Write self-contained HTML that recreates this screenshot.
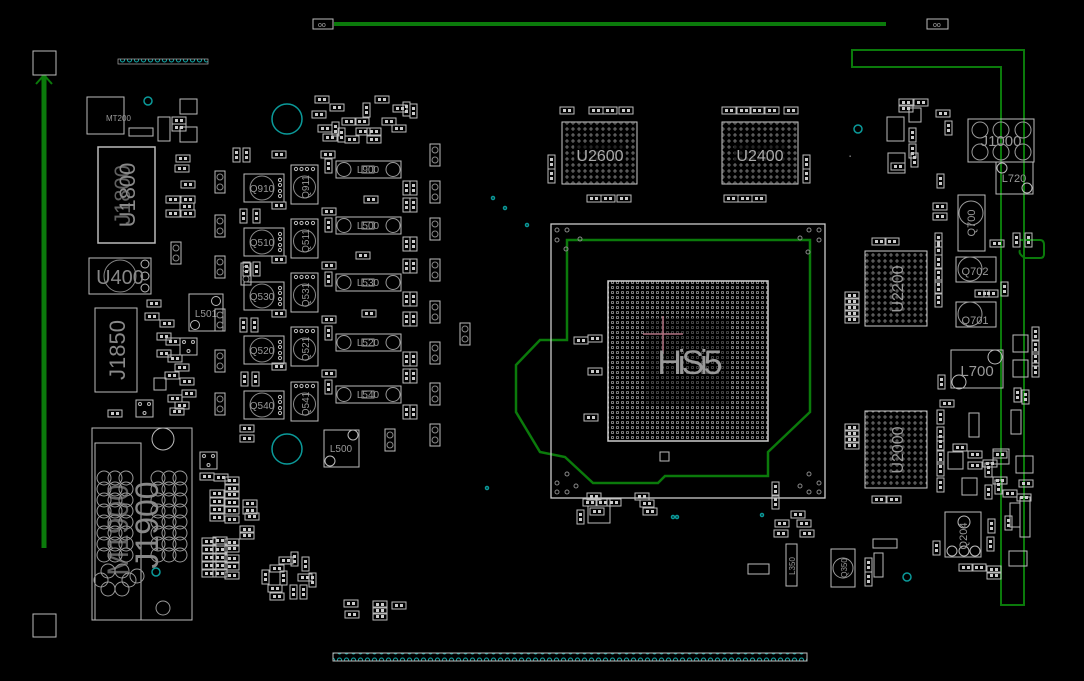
<!DOCTYPE html>
<html><head><meta charset="utf-8"><style>html,body{margin:0;padding:0;background:#000}svg{display:block}</style></head>
<body>
<svg width="1084" height="681" viewBox="0 0 1084 681" xmlns="http://www.w3.org/2000/svg" font-family="Liberation Sans, sans-serif">
<defs>
<g id="r"><rect x="0" y="0" width="14" height="7" fill="none" stroke="#bbb" stroke-width="1"/><rect x="3" y="2" width="3" height="3" fill="#ccc"/><rect x="8" y="2" width="3" height="3" fill="#ccc"/></g>
<g id="rv"><rect x="0" y="0" width="7" height="14" fill="none" stroke="#bbb" stroke-width="1"/><rect x="2" y="3" width="3" height="3" fill="#ccc"/><rect x="2" y="8" width="3" height="3" fill="#ccc"/></g>
<g id="cv"><rect x="0" y="0" width="10" height="22" fill="none" stroke="#bbb"/><circle cx="5" cy="6" r="3" fill="none" stroke="#888"/><circle cx="5" cy="16" r="3" fill="none" stroke="#888"/></g>
<g id="sq"><rect x="0" y="0" width="17" height="17" fill="none" stroke="#bbb"/><circle cx="4" cy="4" r="1.5" fill="none" stroke="#bbb"/><circle cx="13" cy="4" r="1.5" fill="none" stroke="#bbb"/><circle cx="8.5" cy="13" r="1.5" fill="none" stroke="#bbb"/></g>
<g id="qa"><rect x="0" y="0" width="40" height="28" fill="none" stroke="#bbb"/><circle cx="18" cy="14" r="12" fill="none" stroke="#888"/><circle cx="36" cy="6" r="1.6" fill="none" stroke="#bbb"/><circle cx="36" cy="11" r="1.6" fill="none" stroke="#bbb"/><circle cx="36" cy="17" r="1.6" fill="none" stroke="#bbb"/><circle cx="36" cy="22" r="1.6" fill="none" stroke="#bbb"/></g>
<g id="qb"><rect x="0" y="0" width="27" height="39" fill="none" stroke="#bbb"/><circle cx="13.5" cy="22" r="11" fill="none" stroke="#888"/><circle cx="5" cy="4" r="1.6" fill="none" stroke="#bbb"/><circle cx="10.5" cy="4" r="1.6" fill="none" stroke="#bbb"/><circle cx="16" cy="4" r="1.6" fill="none" stroke="#bbb"/><circle cx="22" cy="4" r="1.6" fill="none" stroke="#bbb"/></g>
<g id="lb"><rect x="0" y="0" width="65" height="17" fill="none" stroke="#bbb"/><circle cx="8" cy="8.5" r="7" fill="none" stroke="#999"/><circle cx="57" cy="8.5" r="7" fill="none" stroke="#999"/><rect x="26" y="5" width="12" height="7" fill="none" stroke="#999"/></g>
<pattern id="dots" width="5" height="5" patternUnits="userSpaceOnUse"><circle cx="2.5" cy="2.5" r="1.2" fill="none" stroke="#aaa" stroke-width="0.7"/></pattern>
<pattern id="dots2" width="6" height="6" patternUnits="userSpaceOnUse"><circle cx="3" cy="3" r="1.1" fill="none" stroke="#999" stroke-width="0.7"/></pattern>
<pattern id="tdots" width="7" height="8" patternUnits="userSpaceOnUse"><circle cx="3.5" cy="4" r="2" fill="none" stroke="#1aa" stroke-width="1"/></pattern>
</defs>
<rect width="1084" height="681" fill="#000"/>

<!-- green traces -->
<g stroke="#0b7a0b" fill="none">
<line x1="334" y1="24" x2="886" y2="24" stroke-width="4"/>
<line x1="44" y1="75" x2="44" y2="548" stroke-width="5"/>
<polyline points="44,75 36,84" stroke-width="2"/><polyline points="44,75 52,84" stroke-width="2"/>
<path d="M852,50 H1024 V605 H1001 V67 H852 Z" stroke-width="2"/>
<path d="M1020,240 H1040 Q1044,240 1044,245 V254 Q1044,258 1040,258 H1025 Q1018,254 1020,250" stroke-width="2"/>
<path d="M567,240 H810 V412 L768,452 V476 H665 L658,483 H593 L565,457 L540,452 L516,412 V365 L540,340 H567 Z" stroke-width="2.5"/>
</g>
<g fill="none" stroke="#bbb">
<rect x="313" y="19" width="20" height="10"/><rect x="927" y="19" width="21" height="10"/>
<rect x="33" y="51" width="23" height="24"/><rect x="33" y="614" width="23" height="23"/>
</g>
<text x="318" y="27" font-size="7" fill="#aaa">oo</text><text x="933" y="27" font-size="7" fill="#aaa">oo</text>
<rect x="118" y="59" width="90" height="5" fill="url(#tdots)" stroke="#aaa" stroke-width="0.7"/>
<rect x="333" y="653" width="474" height="8" fill="url(#tdots)" stroke="#bbb"/>

<!-- teal circles -->
<g fill="none" stroke="#0b9a9a" stroke-width="1.5">
<circle cx="287" cy="119" r="15"/><circle cx="287" cy="449" r="15"/><circle cx="148" cy="101" r="4"/><circle cx="858" cy="129" r="4"/><circle cx="907" cy="577" r="4"/><circle cx="156" cy="572" r="4"/>
<circle cx="493" cy="198" r="1.5"/><circle cx="505" cy="208" r="1.5"/><circle cx="527" cy="225" r="1.5"/><circle cx="487" cy="488" r="1.5"/><circle cx="673" cy="517" r="1.5"/><circle cx="677" cy="517" r="1.5"/><circle cx="762" cy="515" r="1.5"/>
</g>

<!-- left area -->
<g fill="none" stroke="#bbb">
<rect x="87" y="97" width="37" height="37"/>
<rect x="98" y="147" width="57" height="96" stroke-width="1.5"/>
<rect x="89" y="258" width="62" height="36"/><circle cx="120" cy="276" r="16" stroke="#888"/>
<circle cx="145" cy="264" r="4"/><circle cx="145" cy="276" r="4"/><circle cx="145" cy="288" r="4"/>
<rect x="95" y="308" width="42" height="84"/>
<rect x="189" y="294" width="34" height="37"/><circle cx="216" cy="301" r="4.5"/><circle cx="195" cy="325" r="4.5"/>
<rect x="92" y="428" width="100" height="192"/><rect x="95" y="443" width="46" height="177"/><circle cx="163" cy="439" r="11"/>
<rect x="324" y="430" width="35" height="37"/><circle cx="353" cy="435" r="5"/><circle cx="330" cy="461" r="5"/>
<rect x="180" y="99" width="17" height="15"/><rect x="180" y="127" width="17" height="15"/>
<rect x="129" y="128" width="24" height="8"/><rect x="158" y="117" width="12" height="24"/>
<rect x="91" y="444" width="0" height="0"/>
</g>
<g fill="none" stroke="#999">
<g id="jball">
<circle cx="104" cy="478" r="7"/><circle cx="115" cy="478" r="7"/><circle cx="126" cy="478" r="7"/><circle cx="158" cy="478" r="7"/><circle cx="169" cy="478" r="7"/><circle cx="180" cy="478" r="7"/>
</g>
<use href="#jball" y="11"/><use href="#jball" y="22"/><use href="#jball" y="33"/><use href="#jball" y="44"/><use href="#jball" y="55"/><use href="#jball" y="66"/><use href="#jball" y="77"/>
<circle cx="108" cy="571" r="7"/><circle cx="122" cy="571" r="7"/><circle cx="101" cy="580" r="7"/><circle cx="129" cy="580" r="7"/><circle cx="108" cy="589" r="7"/><circle cx="122" cy="589" r="7"/><circle cx="137" cy="576" r="7"/><circle cx="163" cy="608" r="7"/>
</g>
<text x="106" y="121" font-size="8" fill="#999">MT200</text>
<text transform="translate(135,195) rotate(-90)" font-size="22" fill="#888" text-anchor="middle">U1800</text>
<text transform="translate(130,195) rotate(-90)" font-size="22" fill="#888" text-anchor="middle" opacity="0.7">J1800</text>
<text x="120" y="284" font-size="20" fill="#888" text-anchor="middle">U400</text>
<text transform="translate(125,350) rotate(-90)" font-size="22" fill="#888" text-anchor="middle">J1850</text>
<text transform="translate(158,525) rotate(-90)" font-size="32" fill="#888" text-anchor="middle">J1900</text>
<text transform="translate(128,530) rotate(-90)" font-size="30" fill="#888" text-anchor="middle" opacity="0.7">M1900</text>
<text x="206" y="317" font-size="10" fill="#999" text-anchor="middle">L501</text>
<text x="341" y="452" font-size="10" fill="#999" text-anchor="middle">L500</text>

<!-- Q/L rows -->
<use href="#qa" x="244" y="174"/><use href="#qb" x="291" y="165"/><use href="#lb" x="336" y="161"/>
<use href="#qa" x="244" y="228"/><use href="#qb" x="291" y="219"/><use href="#lb" x="336" y="217"/>
<use href="#qa" x="244" y="282"/><use href="#qb" x="291" y="273"/><use href="#lb" x="336" y="274"/>
<use href="#qa" x="244" y="336"/><use href="#qb" x="291" y="327"/><use href="#lb" x="336" y="334"/>
<use href="#qa" x="244" y="391"/><use href="#qb" x="291" y="382"/><use href="#lb" x="336" y="386"/>
<g font-size="10" fill="#999" text-anchor="middle">
<text x="262" y="192">Q910</text><text x="262" y="246">Q510</text><text x="262" y="300">Q530</text><text x="262" y="354">Q520</text><text x="262" y="409">Q540</text>
<text x="368" y="173">L900</text><text x="368" y="229">L500</text><text x="368" y="286">L530</text><text x="368" y="346">L520</text><text x="368" y="398">L540</text>
<text transform="translate(309,187) rotate(-90)">Q911</text><text transform="translate(309,241) rotate(-90)">Q511</text><text transform="translate(309,295) rotate(-90)">Q531</text><text transform="translate(309,349) rotate(-90)">Q521</text><text transform="translate(309,404) rotate(-90)">Q541</text>
</g>
<use href="#cv" x="215" y="171"/><use href="#cv" x="215" y="215"/><use href="#cv" x="215" y="256"/><use href="#cv" x="215" y="309"/><use href="#cv" x="215" y="350"/><use href="#cv" x="215" y="393"/>
<use href="#cv" x="430" y="144"/><use href="#cv" x="430" y="181"/><use href="#cv" x="430" y="218"/><use href="#cv" x="430" y="259"/><use href="#cv" x="430" y="301"/><use href="#cv" x="430" y="342"/><use href="#cv" x="430" y="383"/><use href="#cv" x="430" y="424"/>
<use href="#cv" x="385" y="429"/><use href="#cv" x="460" y="323"/><use href="#cv" x="171" y="242"/><use href="#cv" x="241" y="263"/>
<g>
<use href="#rv" x="233" y="148"/><use href="#rv" x="243" y="148"/><use href="#rv" x="240" y="209"/><use href="#rv" x="253" y="209"/><use href="#rv" x="243" y="262"/><use href="#rv" x="253" y="262"/><use href="#rv" x="240" y="318"/><use href="#rv" x="251" y="318"/><use href="#rv" x="241" y="372"/><use href="#rv" x="252" y="372"/>
<use href="#r" x="272" y="151"/><use href="#r" x="272" y="202"/><use href="#r" x="272" y="256"/><use href="#r" x="272" y="310"/><use href="#r" x="272" y="363"/>
<use href="#r" x="321" y="151"/><use href="#r" x="322" y="208"/><use href="#r" x="322" y="262"/><use href="#r" x="322" y="316"/><use href="#r" x="322" y="370"/>
<use href="#rv" x="325" y="159"/><use href="#rv" x="325" y="218"/><use href="#rv" x="325" y="272"/><use href="#rv" x="325" y="326"/><use href="#rv" x="325" y="380"/>
<use href="#rv" x="403" y="181"/><use href="#rv" x="410" y="181"/><use href="#rv" x="403" y="198"/><use href="#rv" x="410" y="198"/><use href="#rv" x="403" y="237"/><use href="#rv" x="410" y="237"/><use href="#rv" x="403" y="259"/><use href="#rv" x="410" y="259"/><use href="#rv" x="403" y="292"/><use href="#rv" x="410" y="292"/><use href="#rv" x="403" y="312"/><use href="#rv" x="410" y="312"/><use href="#rv" x="403" y="352"/><use href="#rv" x="410" y="352"/><use href="#rv" x="403" y="369"/><use href="#rv" x="410" y="369"/><use href="#rv" x="403" y="405"/><use href="#rv" x="410" y="405"/>
<use href="#r" x="364" y="196"/><use href="#r" x="356" y="252"/><use href="#r" x="362" y="310"/><use href="#r" x="240" y="425"/><use href="#r" x="240" y="435"/>
<use href="#r" x="315" y="96"/><use href="#r" x="312" y="111"/><use href="#r" x="318" y="125"/><use href="#r" x="330" y="104"/><use href="#r" x="342" y="118"/><use href="#r" x="355" y="118"/><use href="#r" x="356" y="128"/><use href="#r" x="367" y="128"/><use href="#r" x="375" y="96"/><use href="#r" x="382" y="118"/><use href="#r" x="393" y="105"/><use href="#r" x="392" y="125"/><use href="#r" x="345" y="136"/><use href="#r" x="367" y="136"/><use href="#r" x="323" y="134"/>
<use href="#rv" x="332" y="122"/><use href="#rv" x="403" y="102"/><use href="#rv" x="410" y="104"/><use href="#rv" x="338" y="128"/><use href="#rv" x="363" y="103"/>
<use href="#r" x="176" y="155"/><use href="#r" x="175" y="165"/><use href="#r" x="181" y="181"/><use href="#r" x="166" y="196"/><use href="#r" x="181" y="196"/><use href="#r" x="180" y="203"/><use href="#r" x="166" y="210"/><use href="#r" x="181" y="210"/><use href="#r" x="172" y="117"/><use href="#r" x="172" y="124"/>
<use href="#r" x="147" y="300"/><use href="#r" x="145" y="313"/><use href="#r" x="160" y="320"/><use href="#r" x="157" y="333"/><use href="#r" x="166" y="338"/><use href="#r" x="157" y="350"/><use href="#r" x="168" y="355"/><use href="#r" x="175" y="364"/><use href="#r" x="165" y="372"/><use href="#r" x="180" y="378"/><use href="#r" x="168" y="395"/><use href="#r" x="175" y="402"/><use href="#r" x="182" y="390"/><use href="#r" x="170" y="408"/><use href="#r" x="108" y="410"/>
<use href="#sq" x="180" y="338"/><use href="#sq" x="136" y="400"/><use href="#sq" x="200" y="452"/>
<rect x="154" y="378" width="12" height="12" fill="none" stroke="#bbb"/>
<use href="#r" x="200" y="473"/><use href="#r" x="214" y="474"/><use href="#r" x="225" y="477"/><use href="#r" x="225" y="485"/><use href="#r" x="210" y="490"/><use href="#r" x="225" y="491"/><use href="#r" x="210" y="498"/><use href="#r" x="225" y="499"/><use href="#r" x="210" y="506"/><use href="#r" x="225" y="507"/><use href="#r" x="210" y="514"/><use href="#r" x="225" y="516"/><use href="#r" x="202" y="538"/><use href="#r" x="213" y="537"/><use href="#r" x="225" y="539"/><use href="#r" x="202" y="546"/><use href="#r" x="213" y="546"/><use href="#r" x="225" y="545"/><use href="#r" x="202" y="554"/><use href="#r" x="213" y="554"/><use href="#r" x="225" y="555"/><use href="#r" x="202" y="562"/><use href="#r" x="213" y="562"/><use href="#r" x="225" y="563"/><use href="#r" x="202" y="570"/><use href="#r" x="213" y="570"/><use href="#r" x="225" y="572"/><use href="#r" x="243" y="500"/><use href="#r" x="243" y="507"/><use href="#r" x="245" y="513"/><use href="#r" x="240" y="526"/><use href="#r" x="240" y="532"/>
<use href="#r" x="279" y="557"/><use href="#r" x="270" y="565"/><use href="#r" x="298" y="574"/><use href="#r" x="268" y="585"/><use href="#r" x="270" y="593"/><use href="#r" x="344" y="600"/><use href="#r" x="373" y="601"/><use href="#r" x="373" y="607"/><use href="#r" x="373" y="613"/><use href="#r" x="392" y="602"/><use href="#r" x="345" y="611"/>
<use href="#rv" x="291" y="552"/><use href="#rv" x="302" y="557"/><use href="#rv" x="309" y="573"/><use href="#rv" x="300" y="585"/><use href="#rv" x="280" y="571"/><use href="#rv" x="262" y="570"/><use href="#rv" x="290" y="585"/>
</g>

<!-- center -->
<rect x="551" y="224" width="274" height="274" fill="none" stroke="#ccc" stroke-width="1.3"/>
<rect x="608" y="281" width="160" height="160" fill="url(#dots)" stroke="#ccc" stroke-width="1.5"/>
<rect x="645" y="318" width="86" height="86" fill="#000" opacity="0.45"/>
<line x1="663" y1="316" x2="663" y2="354" stroke="#b07080" stroke-width="1.5"/><line x1="643" y1="334" x2="683" y2="334" stroke="#b07080" stroke-width="1.5"/>
<text x="688" y="374" font-size="34" fill="#999" text-anchor="middle" letter-spacing="-4">HiSi5</text>
<g fill="none" stroke="#888">
<circle cx="557" cy="230" r="2"/><circle cx="567" cy="230" r="2"/><circle cx="557" cy="240" r="2"/><circle cx="566" cy="249" r="2"/><circle cx="580" cy="239" r="2"/>
<circle cx="819" cy="230" r="2"/><circle cx="809" cy="230" r="2"/><circle cx="819" cy="240" r="2"/><circle cx="800" cy="238" r="2"/><circle cx="808" cy="252" r="2"/>
<circle cx="557" cy="492" r="2"/><circle cx="567" cy="492" r="2"/><circle cx="557" cy="483" r="2"/><circle cx="567" cy="474" r="2"/><circle cx="576" cy="486" r="2"/>
<circle cx="819" cy="492" r="2"/><circle cx="809" cy="492" r="2"/><circle cx="819" cy="483" r="2"/><circle cx="809" cy="474" r="2"/><circle cx="800" cy="486" r="2"/>
</g>
<use href="#r" x="574" y="337"/><use href="#r" x="588" y="335"/><use href="#r" x="588" y="368"/><use href="#r" x="584" y="414"/>
<rect x="660" y="452" width="9" height="9" fill="none" stroke="#bbb"/>
<use href="#r" x="587" y="493"/><use href="#r" x="583" y="499"/><use href="#r" x="596" y="499"/><use href="#r" x="607" y="499"/><use href="#r" x="635" y="493"/><use href="#r" x="640" y="500"/><use href="#r" x="643" y="508"/><use href="#r" x="590" y="508"/>
<use href="#rv" x="772" y="482"/><use href="#rv" x="772" y="495"/><use href="#r" x="791" y="511"/><use href="#r" x="775" y="520"/><use href="#r" x="797" y="520"/><use href="#r" x="774" y="530"/><use href="#r" x="800" y="530"/>
<rect x="588" y="506" width="22" height="17" fill="none" stroke="#bbb"/><use href="#rv" x="577" y="510"/>

<!-- top memory -->
<rect x="562" y="122" width="75" height="62" fill="url(#dots2)" stroke="#ccc"/>
<rect x="722" y="122" width="76" height="62" fill="url(#dots2)" stroke="#ccc"/>
<rect x="574" y="145" width="52" height="18" fill="#000" opacity="0.6"/><rect x="734" y="145" width="52" height="18" fill="#000" opacity="0.6"/>
<text x="600" y="161" font-size="16" fill="#aaa" text-anchor="middle">U2600</text>
<text x="760" y="161" font-size="16" fill="#aaa" text-anchor="middle">U2400</text>
<use href="#r" x="560" y="107"/><use href="#r" x="589" y="107"/><use href="#r" x="603" y="107"/><use href="#r" x="619" y="107"/><use href="#r" x="722" y="107"/><use href="#r" x="737" y="107"/><use href="#r" x="750" y="107"/><use href="#r" x="765" y="107"/><use href="#r" x="784" y="107"/>
<use href="#rv" x="548" y="155"/><use href="#rv" x="548" y="169"/><use href="#rv" x="803" y="155"/><use href="#rv" x="803" y="169"/>
<use href="#r" x="587" y="195"/><use href="#r" x="601" y="195"/><use href="#r" x="617" y="195"/><use href="#r" x="724" y="195"/><use href="#r" x="738" y="195"/><use href="#r" x="752" y="195"/>

<!-- right -->
<rect x="865" y="251" width="62" height="75" fill="url(#dots2)" stroke="#ccc"/>
<rect x="865" y="411" width="62" height="77" fill="url(#dots2)" stroke="#ccc"/>
<text transform="translate(903,289) rotate(-90)" font-size="16" fill="#999" text-anchor="middle">U2200</text>
<text transform="translate(903,450) rotate(-90)" font-size="16" fill="#999" text-anchor="middle">U2000</text>
<g fill="none" stroke="#bbb">
<rect x="968" y="119" width="66" height="43"/>
<circle cx="980" cy="130" r="8" stroke="#999"/><circle cx="1001" cy="130" r="8" stroke="#999"/><circle cx="1023" cy="130" r="8" stroke="#999"/><circle cx="980" cy="152" r="8" stroke="#999"/><circle cx="1001" cy="152" r="8" stroke="#999"/><circle cx="1023" cy="152" r="8" stroke="#999"/>
<rect x="996" y="162" width="37" height="32"/><circle cx="1002" cy="168" r="5"/><circle cx="1027" cy="188" r="5"/>
<rect x="958" y="195" width="27" height="56"/><circle cx="971" cy="213" r="12" stroke="#999"/>
<rect x="956" y="237" width="40" height="25" transform="translate(0,20)"/><circle cx="970" cy="249" r="12" stroke="#999" transform="translate(0,20)"/>
<rect x="956" y="281" width="40" height="25" transform="translate(0,21)"/><circle cx="970" cy="314" r="12" stroke="#999"/>
<rect x="951" y="320" width="0" height="0"/>
<rect x="951" y="350" width="52" height="38"/><circle cx="995" cy="327" r="0"/><circle cx="995" cy="357" r="7"/><circle cx="959" cy="382" r="7"/>
<rect x="945" y="512" width="36" height="45"/><circle cx="964" cy="522" r="6"/><circle cx="952" cy="551" r="5"/><circle cx="964" cy="551" r="5"/><circle cx="975" cy="551" r="5"/>
<rect x="831" y="549" width="24" height="38"/><circle cx="843" cy="568" r="10" stroke="#999"/>
<rect x="887" y="117" width="17" height="24"/><rect x="888" y="153" width="17" height="20"/><rect x="909" y="108" width="12" height="14"/>
<rect x="1013" y="335" width="15" height="17"/><rect x="1013" y="360" width="15" height="17"/><rect x="969" y="413" width="10" height="24"/><rect x="1011" y="410" width="10" height="24"/>
<rect x="948" y="452" width="15" height="17"/><rect x="962" y="478" width="15" height="17"/><rect x="993" y="449" width="16" height="15"/><rect x="1016" y="456" width="17" height="17"/><rect x="1009" y="551" width="18" height="15"/>
<rect x="1020" y="497" width="10" height="40"/><rect x="1010" y="503" width="10" height="24"/><rect x="786" y="544" width="11" height="42"/><rect x="873" y="539" width="24" height="9"/><rect x="874" y="553" width="9" height="24"/><rect x="748" y="564" width="21" height="10"/>
</g>
<g font-size="11" fill="#999" text-anchor="middle">
<text x="1001" y="146" font-size="15">J1000</text><text x="1014" y="182">L720</text>
<text transform="translate(975,223) rotate(-90)">Q700</text><text x="975" y="275">Q702</text><text x="975" y="324">Q701</text>
<text x="977" y="376" font-size="15">L700</text><text transform="translate(967,536) rotate(-90)">Q204</text>
<text transform="translate(847,568) rotate(-90)" font-size="8">Q350</text><text transform="translate(795,566) rotate(-90)" font-size="8">L350</text>
</g>
<g>
<use href="#r" x="872" y="238"/><use href="#r" x="885" y="238"/><use href="#r" x="872" y="496"/><use href="#r" x="887" y="496"/>
<use href="#r" x="845" y="292"/><use href="#r" x="845" y="298"/><use href="#r" x="845" y="304"/><use href="#r" x="845" y="310"/><use href="#r" x="845" y="316"/>
<use href="#r" x="845" y="424"/><use href="#r" x="845" y="430"/><use href="#r" x="845" y="436"/><use href="#r" x="845" y="442"/>
<use href="#rv" x="935" y="233"/><use href="#rv" x="935" y="241"/><use href="#rv" x="935" y="255"/><use href="#rv" x="935" y="268"/><use href="#rv" x="935" y="280"/><use href="#rv" x="935" y="293"/>
<use href="#rv" x="937" y="174"/><use href="#rv" x="945" y="121"/><use href="#rv" x="909" y="128"/><use href="#rv" x="909" y="144"/><use href="#rv" x="911" y="153"/><use href="#rv" x="1013" y="233"/><use href="#rv" x="1025" y="233"/>
<use href="#r" x="899" y="99"/><use href="#r" x="914" y="99"/><use href="#r" x="899" y="105"/><use href="#r" x="936" y="110"/><use href="#r" x="891" y="163"/><use href="#r" x="933" y="203"/><use href="#r" x="933" y="213"/><use href="#r" x="990" y="240"/>
<use href="#r" x="975" y="290"/><use href="#r" x="984" y="290"/><use href="#rv" x="1001" y="282"/><use href="#rv" x="1032" y="327"/><use href="#rv" x="1032" y="340"/><use href="#rv" x="1032" y="352"/><use href="#rv" x="1032" y="363"/><use href="#rv" x="1014" y="388"/><use href="#rv" x="1022" y="390"/>
<use href="#rv" x="938" y="375"/><use href="#rv" x="937" y="410"/><use href="#rv" x="937" y="427"/><use href="#rv" x="937" y="437"/><use href="#rv" x="937" y="450"/><use href="#rv" x="937" y="462"/><use href="#rv" x="937" y="478"/><use href="#r" x="940" y="400"/>
<use href="#r" x="953" y="444"/><use href="#r" x="968" y="451"/><use href="#r" x="968" y="462"/><use href="#r" x="983" y="460"/><use href="#r" x="993" y="451"/><use href="#r" x="993" y="477"/><use href="#r" x="1003" y="490"/><use href="#r" x="1019" y="480"/><use href="#r" x="1017" y="494"/>
<use href="#rv" x="985" y="463"/><use href="#rv" x="985" y="485"/><use href="#rv" x="995" y="480"/><use href="#rv" x="1005" y="516"/><use href="#rv" x="988" y="519"/><use href="#rv" x="987" y="537"/><use href="#rv" x="933" y="541"/><use href="#r" x="959" y="564"/><use href="#r" x="972" y="564"/><use href="#r" x="987" y="566"/><use href="#r" x="987" y="572"/>
<use href="#rv" x="865" y="558"/><use href="#rv" x="865" y="572"/>
</g>
<g fill="#777" font-size="6"><text x="849" y="158">▪</text></g>
</svg>
</body></html>
